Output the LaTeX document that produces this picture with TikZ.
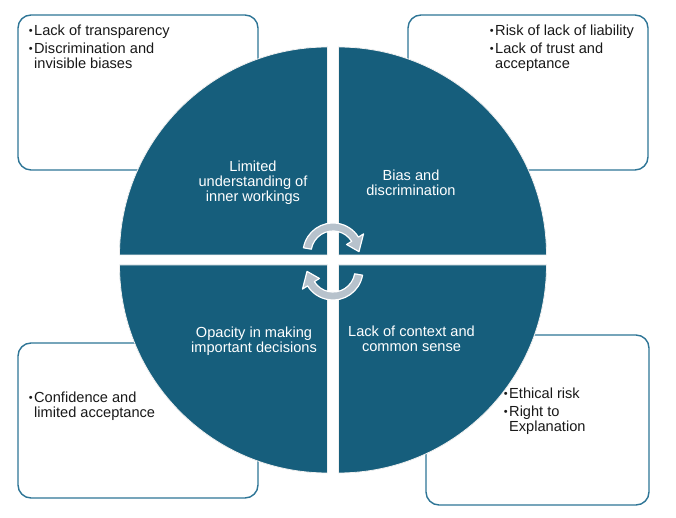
\documentclass[tikz,border=0pt]{standalone}
\usepackage{fontspec}
\setmainfont{Liberation Sans}
\usetikzlibrary{calc}
\definecolor{quad}{RGB}{22,94,124}
\definecolor{boxline}{RGB}{46,117,150}
\definecolor{arrowgray}{RGB}{183,194,204}
\definecolor{txt}{RGB}{25,25,25}
\tikzset{
  infobox/.style={draw=boxline, line width=1.4pt, rounded corners=13pt, fill=white},
  quadrant/.style={fill=quad, draw=white!88!gray, line width=0.8pt},
  quadtext/.style={text=white, align=center, font=\fontsize{14.6}{15.3}\selectfont, inner sep=0pt, anchor=base},
  itemtext/.style={text=txt, align=left, font=\fontsize{14.6}{15.5}\selectfont, inner sep=0pt, anchor=base west},
  cyclearrow/.style={fill=arrowgray, draw=white, line width=1.2pt, line join=round}
}
\newcommand{\bul}{\llap{\raisebox{1.2pt}{\fontsize{11}{11}\selectfont\textbullet}\hspace{1.5pt}}}
\begin{document}
\begin{tikzpicture}[x=1pt,y=1pt]
\useasboundingbox (0,0) rectangle (676,518);
% boxes
\draw[infobox] (18,348) rectangle (258,503);
\draw[infobox] (408,348) rectangle (648,503);
\draw[infobox] (18,20) rectangle (258,175);
\draw[infobox] (426,13) rectangle (649,183);
% quadrants
\coordinate (qtl) at (327.5,263);
\coordinate (qtr) at (338.5,263);
\coordinate (qbl) at (327.5,253);
\coordinate (qbr) at (338.5,253);
\draw[quadrant] (qtl) -- ++(-208,0) arc[start angle=180, end angle=90, radius=208] -- cycle;
\draw[quadrant] (qtr) -- ++(0,208) arc[start angle=90, end angle=0, radius=208] -- cycle;
\draw[quadrant] (qbl) -- ++(0,-208) arc[start angle=270, end angle=180, radius=208] -- cycle;
\draw[quadrant] (qbr) -- ++(208,0) arc[start angle=0, end angle=-90, radius=208] -- cycle;
% quadrant texts (base anchor = last line)
\node[quadtext] (limited) at (253,316) {Limited\\understanding of\\inner workings};
\node[quadtext] (bias) at (411,322) {Bias and\\discrimination};
\node[quadtext] (opacity) at (254,165.5) {Opacity in making\\important decisions};
\node[quadtext] (context) at (411.5,166.5) {Lack of context and\\common sense};
% box texts
\node[itemtext] (tl1) at (34,482) {\bul Lack of transparency};
\node[itemtext] (tl2) at (34,449) {\bul Discrimination and\\invisible biases};
\node[itemtext] (tr1) at (495,482) {\bul Risk of lack of liability};
\node[itemtext] (tr2) at (495,449) {\bul Lack of trust and\\acceptance};
\node[itemtext] (bl1) at (34,100) {\bul Confidence and\\limited acceptance};
\node[itemtext] (br1) at (509,119) {\bul Ethical risk};
\node[itemtext] (br2) at (509,86) {\bul Right to\\Explanation};
% cycle arrows
\coordinate (c1) at (333,265);
\coordinate (c2) at (333,248);
\draw[cyclearrow] ($(c1)+(170:30)$) arc[start angle=170, end angle=32, radius=30]
  -- ($(c1)+(32:36)$) -- ($(c1)+(3:26)$) -- ($(c1)+(32:16)$) -- ($(c1)+(32:22)$)
  arc[start angle=32, end angle=170, radius=22] -- cycle;
\draw[cyclearrow] ($(c2)+(350:30)$) arc[start angle=350, end angle=212, radius=30]
  -- ($(c2)+(212:36)$) -- ($(c2)+(183:26)$) -- ($(c2)+(212:16)$) -- ($(c2)+(212:22)$)
  arc[start angle=212, end angle=350, radius=22] -- cycle;
\end{tikzpicture}
\end{document}
